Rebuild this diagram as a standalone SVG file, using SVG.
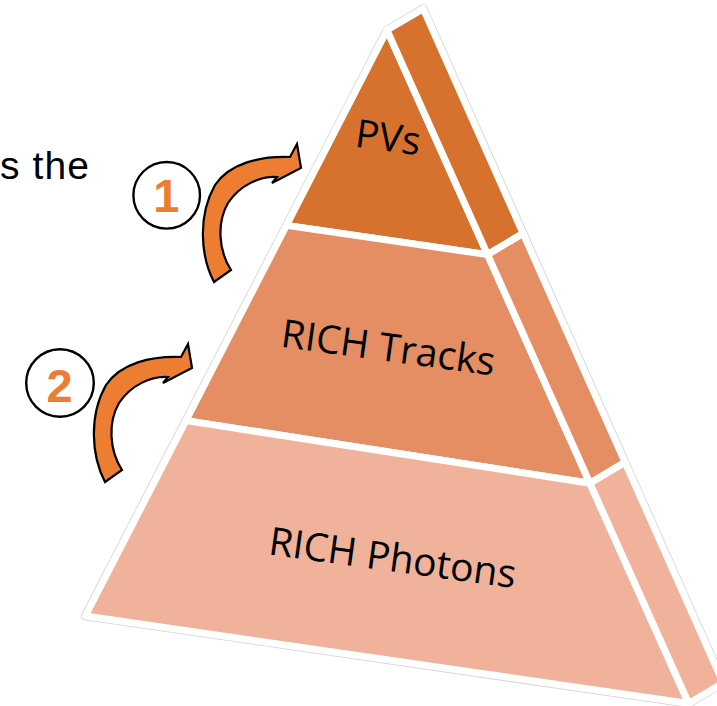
<svg xmlns="http://www.w3.org/2000/svg" xmlns:xlink="http://www.w3.org/1999/xlink" width="717" height="706" viewBox="0 0 717 706">
  <style>
    .piece { stroke: #ffffff; stroke-width: 7; stroke-linejoin: round; }
    .pvs { fill: #D6722D; }
    .tracks { fill: #E58E64; }
    .photons { fill: #F0B29A; }
    .tier-label { font-family: "Open Sans", "Liberation Sans", sans-serif; font-size: 39px; fill: #000000; text-anchor: middle; }
    .badge { fill: #ffffff; stroke: #000000; stroke-width: 2.4; }
    .badge-num { font-family: "Liberation Sans", Arial, sans-serif; font-weight: bold; font-size: 47px; fill: #ED7D31; text-anchor: middle; }
    .curved-arrow { fill: #ED7D31; stroke: #000000; stroke-width: 2.2; stroke-linejoin: miter; }
    .side-text { font-family: "Liberation Sans", Arial, sans-serif; font-size: 39px; fill: #000000; }
  </style>
  <defs>
    <path id="curvedArrow" d="M 214,282 C 200,255 198,215 215,185 C 230,163 260,156 290,157 L 297,144 L 301,168 L 272,183 L 277,177 C 260,176 240,185 228,203 C 217,222 218,250 231,270 Z"/>
  </defs>

  <rect width="717" height="706" fill="#ffffff"/>

  <text class="side-text" x="0" y="179" textLength="89" lengthAdjust="spacing">s the</text>

  <g id="pyramid-outline">
    <polygon points="387,30.1 423.2,8.7 723.2,682.9 688.7,703.5 85.3,616" fill="#ffffff" stroke="#d4d4d4" stroke-width="8.6" stroke-linejoin="round"/>
  </g>

  <g id="tier-pvs">
    <polygon class="piece pvs" points="387,30.1 286.4,225.4 487.6,254.6"/>
    <polygon class="piece pvs" points="387,30.1 423.2,8.7 523.1,233.4 487.6,254.6"/>
    <text class="tier-label" x="386.4" y="150.9" transform="rotate(7.8 386.4 150.9)">PVs</text>
  </g>

  <g id="tier-tracks">
    <polygon class="piece tracks" points="286.4,225.4 185.9,420.6 589.9,483.2 487.6,254.6"/>
    <polygon class="piece tracks" points="487.6,254.6 523.1,233.4 625,462.2 589.9,483.2"/>
    <text class="tier-label" x="386.5" y="361" transform="rotate(7.8 386.5 361)">RICH Tracks</text>
  </g>

  <g id="tier-photons">
    <polygon class="piece photons" points="185.9,420.6 85.3,616 688.7,703.5 589.9,483.2"/>
    <polygon class="piece photons" points="589.9,483.2 625,462.2 723.2,682.9 688.7,703.5"/>
    <text class="tier-label" x="390.8" y="571.2" transform="rotate(7.8 390.8 571.2)">RICH Photons</text>
  </g>

  <g id="badge-1">
    <circle class="badge" cx="166.7" cy="195.3" r="33.3"/>
    <text class="badge-num" x="166.2" y="211.7">1</text>
  </g>

  <g id="badge-2">
    <circle class="badge" cx="60" cy="383" r="33.8"/>
    <text class="badge-num" x="59.5" y="401.7">2</text>
  </g>

  <g id="connectors">
    <use xlink:href="#curvedArrow" href="#curvedArrow" class="curved-arrow"/>
    <use xlink:href="#curvedArrow" href="#curvedArrow" class="curved-arrow" transform="translate(-109,200)"/>
  </g>
</svg>
